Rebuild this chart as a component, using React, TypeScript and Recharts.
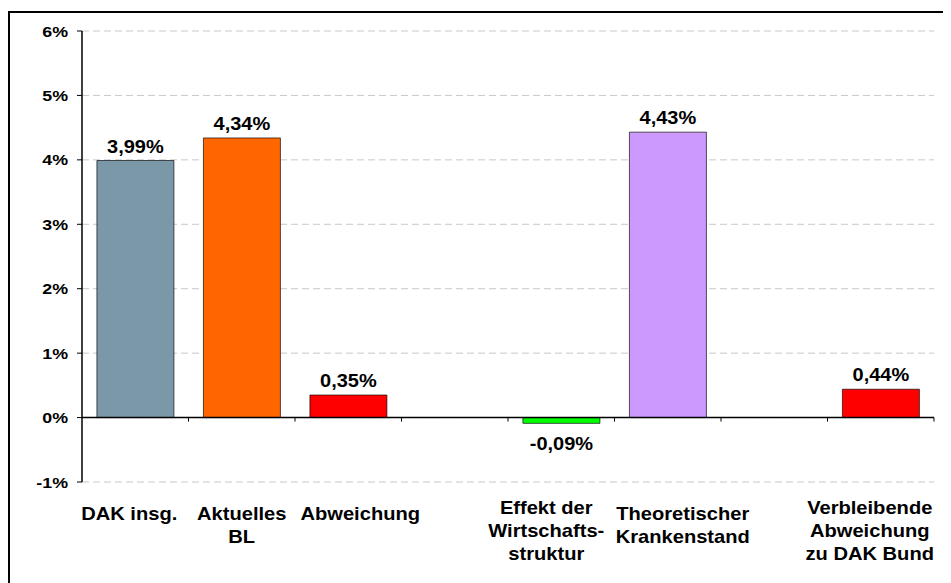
import { BarChart, Bar, XAxis, YAxis, CartesianGrid, ReferenceLine, Cell, LabelList } from 'recharts'

// ─── Data ────────────────────────────────────────────────────────────────────
const CATEGORY_KEYS = ['dak', 'bl', 'abw', 'gap1', 'effekt', 'theo', 'gap2', 'rest']
const CATEGORY_LABELS = [
  'DAK insg.',
  'Aktuelles\nBL',
  'Abweichung',
  '',
  'Effekt der\nWirtschafts-\nstruktur',
  'Theoretischer\nKrankenstand',
  '',
  'Verbleibende\nAbweichung\nzu DAK Bund',
]
const VALUES: (number | null)[] = [3.99, 4.34, 0.35, null, -0.09, 4.43, null, 0.44]
const BAR_COLORS = ['#7B98A8', '#FF6600', '#FF0000', '#FFFFFF', '#00FF00', '#CC99FF', '#FFFFFF', '#FF0000']
const Y_TICKS = [-1, 0, 1, 2, 3, 4, 5, 6]

const data = CATEGORY_KEYS.map((key, i) => ({ key, value: VALUES[i] }))

const FONT = '"Liberation Sans", Arial, sans-serif'
// Excel nudges overlapping category labels sideways
const LABEL_NUDGE = [-6, 0, 12, 0, -15, 15, 0, -11]

const fmtPct = (v: number) => `${v.toFixed(2).replace('.', ',')}%`

function CategoryTick(props: any) {
  const { x, y, payload, index } = props
  const idx = typeof index === 'number' ? index : CATEGORY_KEYS.indexOf(payload?.value)
  const lines = (CATEGORY_LABELS[idx] || '').split('\n').filter(Boolean)
  const start = 38 - Math.max(0, lines.length - 2) * 6
  return (
    <g transform={`translate(${x + (LABEL_NUDGE[idx] || 0)},${y}) scale(1.15,1)`}>
      <text textAnchor="middle" fontFamily={FONT} fontWeight="bold" fontSize={17.5} fill="#000">
        {lines.map((l, i) => (
          <tspan key={i} x={0} y={start + i * 23}>{l}</tspan>
        ))}
      </text>
    </g>
  )
}

function YTick(props: any) {
  const { x, y, payload } = props
  return (
    <g transform={`translate(${x},${y}) scale(1.15,1)`}>
      <text textAnchor="end" dy="0.36em" fontFamily={FONT} fontWeight="bold" fontSize={15.5} fill="#000">
        {`${payload.value}%`}
      </text>
    </g>
  )
}

function ValueLabel(props: any) {
  const { x, y, width, height, value } = props
  if (value === null || value === undefined) return null
  const top = Math.min(y, y + height)
  const bottom = Math.max(y, y + height)
  const ty = value >= 0 ? top - 8 : bottom + 27
  return (
    <g transform={`translate(${x + width / 2},${ty}) scale(1.08,1)`}>
      <text textAnchor="middle" fontFamily={FONT} fontWeight="bold" fontSize={18.5} fill="#000">
        {fmtPct(value)}
      </text>
    </g>
  )
}

// zero line with category boundary ticks (Excel style)
function ZeroLine(props: any) {
  const { x1, y1, x2, y2 } = props
  const n = CATEGORY_KEYS.length
  const step = (x2 - x1) / n
  return (
    <g>
      <line x1={x1} y1={y1} x2={x2} y2={y2} stroke="#000" strokeWidth={1.5} />
      {CATEGORY_KEYS.map((_, i) => (
        <line key={i} x1={x1 + step * (i + 1)} y1={y1} x2={x1 + step * (i + 1)} y2={y1 + 4} stroke="#000" strokeWidth={1} />
      ))}
    </g>
  )
}

export default function App() {
  return (
    <div style={{ paddingTop: 3 }}>
      <div
        style={{
          width: 941,
          height: 570,
          borderLeft: '2px solid #000',
          borderTop: '2px solid #000',
          background: '#fff',
        }}
      >
        <BarChart
          width={939}
          height={570}
          data={data}
          margin={{ top: 18, right: 15, left: 0, bottom: 0 }}
          barCategoryGap="14%"
        >
          <CartesianGrid vertical={false} stroke="#C8C8C8" strokeDasharray="7 4" />
          <XAxis
            dataKey="key"
            axisLine={false}
            tickLine={false}
            tickSize={0}
            tickMargin={0}
            height={101}
            interval={0}
            tick={<CategoryTick />}
          />
          <YAxis
            domain={[-1, 6]}
            ticks={Y_TICKS}
            interval={0}
            width={72}
            axisLine={{ stroke: '#000', strokeWidth: 1.5 }}
            tickLine={{ stroke: '#000' }}
            tickSize={5}
            tickMargin={9}
            tick={<YTick />}
          />
          <ReferenceLine y={0} shape={<ZeroLine />} ifOverflow="extendDomain" />
          <Bar dataKey="value" isAnimationActive={false} stroke="#000" strokeOpacity={0.65} strokeWidth={1}>
            {data.map((_, i) => (
              <Cell key={i} fill={BAR_COLORS[i]} />
            ))}
            <LabelList dataKey="value" content={<ValueLabel />} />
          </Bar>
        </BarChart>
      </div>
    </div>
  )
}
